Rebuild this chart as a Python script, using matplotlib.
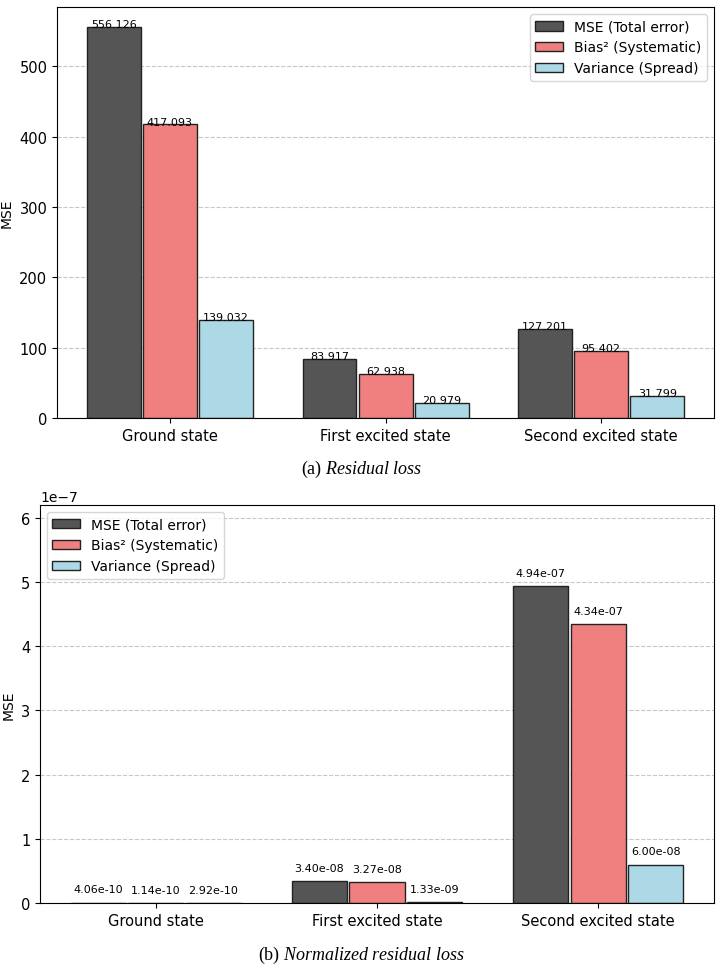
import numpy as np
import matplotlib.pyplot as plt

plt.rcParams["mathtext.fontset"] = "custom"
plt.rcParams["mathtext.rm"] = "Liberation Serif"
plt.rcParams["mathtext.it"] = "Liberation Serif:italic"

states = ["Ground state", "First excited state", "Second excited state"]
series = ["MSE (Total error)", "Bias² (Systematic)", "Variance (Spread)"]
colors = ["#555555", "lightcoral", "lightblue"]

# (a) residual loss
res_mse = [556.126, 83.917, 127.201]
res_bias = [417.093, 62.938, 95.402]
res_var = [139.032, 20.979, 31.799]

# (b) normalized residual loss
norm_mse = [4.06e-10, 3.40e-08, 4.94e-07]
norm_bias = [1.14e-10, 3.27e-08, 4.34e-07]
norm_var = [2.92e-10, 1.33e-09, 6.00e-08]

fig = plt.figure(figsize=(7.22, 9.7), dpi=100)
x = np.arange(len(states))
w = 0.25
step = 0.26


def draw(ax, vals, fmt, offset, legend_loc, ytop):
    for i, (v, c, lab) in enumerate(zip(vals, colors, series)):
        bars = ax.bar(x + (i - 1) * step, v, w, color=c, edgecolor="#222222",
                      linewidth=1, label=lab)
        for b in bars:
            ax.annotate(fmt(b.get_height()), (b.get_x() + b.get_width() / 2, b.get_height()),
                        xytext=(0, offset), textcoords="offset points",
                        ha="center", va="bottom", fontsize=8)
    ax.set_xticks(x)
    ax.set_xticklabels(states, fontsize=10.5)
    ax.tick_params(axis="y", labelsize=10.5)
    ax.set_ylabel("MSE")
    ax.set_ylim(0, ytop)
    ax.grid(axis="y", linestyle="--", alpha=0.7)
    ax.set_axisbelow(True)
    ax.legend(loc=legend_loc)


ax1 = fig.add_axes([0.079, 0.568, 0.910, 0.4237])
draw(ax1, [res_mse, res_bias, res_var], lambda v: f"{v:.3f}", -1.5, "upper right",
     max(res_mse) * 1.05)

ax2 = fig.add_axes([0.0554, 0.068, 0.9335, 0.4104])
draw(ax2, [norm_mse, norm_bias, norm_var], lambda v: f"{v:.2e}", 6, "upper left",
     max(norm_mse) * 1.255)

fig.text(0.501, 0.516, r"(a) $\mathit{Residual\ loss}$", ha="center", va="center",
         family="Liberation Serif", fontsize=13)
fig.text(0.501, 0.0155, r"(b) $\mathit{Normalized\ residual\ loss}$", ha="center",
         va="center", family="Liberation Serif", fontsize=13)

fig.savefig("out.png", dpi=100)
